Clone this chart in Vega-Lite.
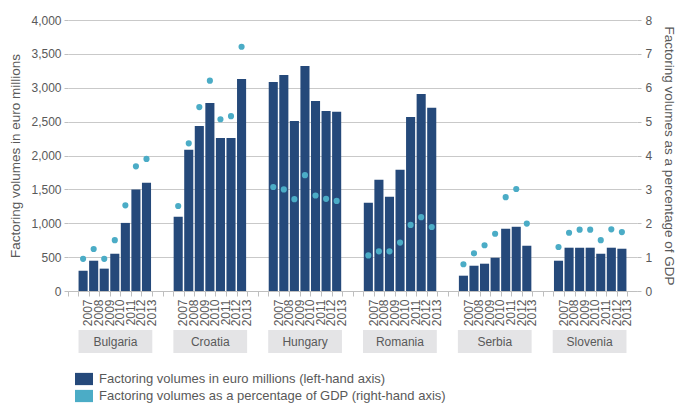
{
  "$schema": "https://vega.github.io/schema/vega-lite/v6.json",
  "padding": {"left": 8, "top": 14, "right": 4, "bottom": 0},
  "config": {
    "font": "Liberation Sans",
    "view": {"stroke": null},
    "axis": {"labelColor": "#595959", "titleColor": "#595959", "titleFontWeight": "normal", "labelFontSize": 12, "titleFontSize": 13.5}
  },
  "datasets": {
    "vals": [
      {"country": "Bulgaria", "year": "2007", "slot": "Bulgaria 2007", "volume": 300, "gdp": 0.95},
      {"country": "Bulgaria", "year": "2008", "slot": "Bulgaria 2008", "volume": 447, "gdp": 1.24},
      {"country": "Bulgaria", "year": "2009", "slot": "Bulgaria 2009", "volume": 330, "gdp": 0.95},
      {"country": "Bulgaria", "year": "2010", "slot": "Bulgaria 2010", "volume": 550, "gdp": 1.5},
      {"country": "Bulgaria", "year": "2011", "slot": "Bulgaria 2011", "volume": 1005, "gdp": 2.53},
      {"country": "Bulgaria", "year": "2012", "slot": "Bulgaria 2012", "volume": 1499, "gdp": 3.68},
      {"country": "Bulgaria", "year": "2013", "slot": "Bulgaria 2013", "volume": 1597, "gdp": 3.9},
      {"country": "Croatia", "year": "2007", "slot": "Croatia 2007", "volume": 1096, "gdp": 2.51},
      {"country": "Croatia", "year": "2008", "slot": "Croatia 2008", "volume": 2084, "gdp": 4.36},
      {"country": "Croatia", "year": "2009", "slot": "Croatia 2009", "volume": 2437, "gdp": 5.43},
      {"country": "Croatia", "year": "2010", "slot": "Croatia 2010", "volume": 2776, "gdp": 6.21},
      {"country": "Croatia", "year": "2011", "slot": "Croatia 2011", "volume": 2260, "gdp": 5.07},
      {"country": "Croatia", "year": "2012", "slot": "Croatia 2012", "volume": 2260, "gdp": 5.16},
      {"country": "Croatia", "year": "2013", "slot": "Croatia 2013", "volume": 3130, "gdp": 7.21},
      {"country": "Hungary", "year": "2007", "slot": "Hungary 2007", "volume": 3086, "gdp": 3.07},
      {"country": "Hungary", "year": "2008", "slot": "Hungary 2008", "volume": 3189, "gdp": 3.0},
      {"country": "Hungary", "year": "2009", "slot": "Hungary 2009", "volume": 2511, "gdp": 2.71},
      {"country": "Hungary", "year": "2010", "slot": "Hungary 2010", "volume": 3322, "gdp": 3.42},
      {"country": "Hungary", "year": "2011", "slot": "Hungary 2011", "volume": 2806, "gdp": 2.82},
      {"country": "Hungary", "year": "2012", "slot": "Hungary 2012", "volume": 2658, "gdp": 2.72},
      {"country": "Hungary", "year": "2013", "slot": "Hungary 2013", "volume": 2644, "gdp": 2.66},
      {"country": "Romania", "year": "2007", "slot": "Romania 2007", "volume": 1302, "gdp": 1.05},
      {"country": "Romania", "year": "2008", "slot": "Romania 2008", "volume": 1641, "gdp": 1.17},
      {"country": "Romania", "year": "2009", "slot": "Romania 2009", "volume": 1391, "gdp": 1.17},
      {"country": "Romania", "year": "2010", "slot": "Romania 2010", "volume": 1789, "gdp": 1.43},
      {"country": "Romania", "year": "2011", "slot": "Romania 2011", "volume": 2570, "gdp": 1.95},
      {"country": "Romania", "year": "2012", "slot": "Romania 2012", "volume": 2909, "gdp": 2.18},
      {"country": "Romania", "year": "2013", "slot": "Romania 2013", "volume": 2703, "gdp": 1.89},
      {"country": "Serbia", "year": "2007", "slot": "Serbia 2007", "volume": 226, "gdp": 0.79},
      {"country": "Serbia", "year": "2008", "slot": "Serbia 2008", "volume": 373, "gdp": 1.11},
      {"country": "Serbia", "year": "2009", "slot": "Serbia 2009", "volume": 403, "gdp": 1.35},
      {"country": "Serbia", "year": "2010", "slot": "Serbia 2010", "volume": 491, "gdp": 1.69},
      {"country": "Serbia", "year": "2011", "slot": "Serbia 2011", "volume": 919, "gdp": 2.77},
      {"country": "Serbia", "year": "2012", "slot": "Serbia 2012", "volume": 948, "gdp": 3.01},
      {"country": "Serbia", "year": "2013", "slot": "Serbia 2013", "volume": 668, "gdp": 1.99},
      {"country": "Slovenia", "year": "2007", "slot": "Slovenia 2007", "volume": 447, "gdp": 1.3},
      {"country": "Slovenia", "year": "2008", "slot": "Slovenia 2008", "volume": 639, "gdp": 1.72},
      {"country": "Slovenia", "year": "2009", "slot": "Slovenia 2009", "volume": 639, "gdp": 1.81},
      {"country": "Slovenia", "year": "2010", "slot": "Slovenia 2010", "volume": 639, "gdp": 1.81},
      {"country": "Slovenia", "year": "2011", "slot": "Slovenia 2011", "volume": 550, "gdp": 1.5},
      {"country": "Slovenia", "year": "2012", "slot": "Slovenia 2012", "volume": 639, "gdp": 1.82},
      {"country": "Slovenia", "year": "2013", "slot": "Slovenia 2013", "volume": 624, "gdp": 1.74}
    ],
    "boxes": [
      {"country": "Bulgaria", "start": "Bulgaria 2007", "mid": "Bulgaria 2010", "end": "Bulgaria_b"},
      {"country": "Croatia", "start": "Croatia 2007", "mid": "Croatia 2010", "end": "Croatia_b"},
      {"country": "Hungary", "start": "Hungary 2007", "mid": "Hungary 2010", "end": "Hungary_b"},
      {"country": "Romania", "start": "Romania 2007", "mid": "Romania 2010", "end": "Romania_b"},
      {"country": "Serbia", "start": "Serbia 2007", "mid": "Serbia 2010", "end": "Serbia_b"},
      {"country": "Slovenia", "start": "Slovenia 2007", "mid": "Slovenia 2010", "end": "Slovenia_b"}
    ]
  },
  "spacing": 4,
  "resolve": {"scale": {"x": "independent"}},
  "vconcat": [
    {
      "width": 569,
      "height": 271,
      "data": {"name": "vals"},
      "layer": [
        {
          "mark": {"type": "bar", "opacity": 1},
          "encoding": {
            "x": {
              "field": "slot", "type": "ordinal",
              "scale": {"domain": ["Bulgaria_a","Bulgaria 2007","Bulgaria 2008","Bulgaria 2009","Bulgaria 2010","Bulgaria 2011","Bulgaria 2012","Bulgaria 2013","Bulgaria_b","Croatia_a","Croatia 2007","Croatia 2008","Croatia 2009","Croatia 2010","Croatia 2011","Croatia 2012","Croatia 2013","Croatia_b","Hungary_a","Hungary 2007","Hungary 2008","Hungary 2009","Hungary 2010","Hungary 2011","Hungary 2012","Hungary 2013","Hungary_b","Romania_a","Romania 2007","Romania 2008","Romania 2009","Romania 2010","Romania 2011","Romania 2012","Romania 2013","Romania_b","Serbia_a","Serbia 2007","Serbia 2008","Serbia 2009","Serbia 2010","Serbia 2011","Serbia 2012","Serbia 2013","Serbia_b","Slovenia_a","Slovenia 2007","Slovenia 2008","Slovenia 2009","Slovenia 2010","Slovenia 2011","Slovenia 2012","Slovenia 2013","Slovenia_b"], "paddingInner": 0.14, "paddingOuter": 0},
              "axis": {"title": null, "bandPosition": 0, "labelOffset": 5.27, "labelAngle": 270, "labelExpr": "indexof(datum.value, '_') >= 0 ? '' : slice(datum.value, -4)", "labelPadding": 3, "tickSize": 5, "tickColor": "#BFBFBF", "domainColor": "#BFBFBF", "grid": false, "labelFontSize": 12}
            },
            "y": {
              "field": "volume", "type": "quantitative",
              "scale": {"domain": [0, 4000]},
              "axis": {"title": "Factoring volumes in euro millions", "values": [0,500,1000,1500,2000,2500,3000,3500,4000], "format": ",.0f", "domain": false, "tickSize": 4, "tickColor": "#BFBFBF", "gridColor": "#C9C9C9", "labelPadding": 3, "titlePadding": 8}
            },
            "color": {"datum": "Factoring volumes in euro millions (left-hand axis)", "type": "nominal",
              "scale": {"domain": ["Factoring volumes in euro millions (left-hand axis)", "Factoring volumes as a percentage of GDP (right-hand axis)"], "range": ["#25497A", "#4BACC6"]},
              "legend": {"title": null, "orient": "bottom", "direction": "vertical", "symbolType": "M-1,-0.68H1V0.68H-1Z", "symbolSize": 324, "symbolStrokeWidth": 0, "symbolOpacity": 1, "labelFontSize": 13, "labelColor": "#595959", "rowPadding": 1, "labelOffset": 6, "labelLimit": 500, "offset": 10, "padding": 7}
            }
          }
        },
        {
          "mark": {"type": "point", "filled": true, "size": 38, "opacity": 1},
          "encoding": {
            "x": {"field": "slot", "type": "ordinal"},
            "y": {
              "field": "gdp", "type": "quantitative",
              "scale": {"domain": [0, 8]},
              "axis": {"title": "Factoring volumes as a percentage of GDP", "orient": "right", "values": [0,1,2,3,4,5,6,7,8], "grid": false, "domain": false, "tickSize": 4, "tickColor": "#BFBFBF", "labelPadding": 4, "titlePadding": 10}
            },
            "color": {"datum": "Factoring volumes as a percentage of GDP (right-hand axis)", "type": "nominal"}
          }
        }
      ],
      "resolve": {"scale": {"y": "independent"}}
    },
    {
      "width": 569,
      "height": 23,
      "data": {"name": "boxes"},
      "encoding": {
        "x": {"field": "start", "type": "ordinal", "bandPosition": 0,
          "scale": {"domain": ["Bulgaria_a","Bulgaria 2007","Bulgaria 2008","Bulgaria 2009","Bulgaria 2010","Bulgaria 2011","Bulgaria 2012","Bulgaria 2013","Bulgaria_b","Croatia_a","Croatia 2007","Croatia 2008","Croatia 2009","Croatia 2010","Croatia 2011","Croatia 2012","Croatia 2013","Croatia_b","Hungary_a","Hungary 2007","Hungary 2008","Hungary 2009","Hungary 2010","Hungary 2011","Hungary 2012","Hungary 2013","Hungary_b","Romania_a","Romania 2007","Romania 2008","Romania 2009","Romania 2010","Romania 2011","Romania 2012","Romania 2013","Romania_b","Serbia_a","Serbia 2007","Serbia 2008","Serbia 2009","Serbia 2010","Serbia 2011","Serbia 2012","Serbia 2013","Serbia_b","Slovenia_a","Slovenia 2007","Slovenia 2008","Slovenia 2009","Slovenia 2010","Slovenia 2011","Slovenia 2012","Slovenia 2013","Slovenia_b"], "paddingInner": 0, "paddingOuter": 0},
          "axis": null}
      },
      "layer": [
        {
          "mark": {"type": "rect", "color": "#E4E4E6"},
          "encoding": {
            "x2": {"field": "end", "bandPosition": 0}
          }
        },
        {
          "mark": {"type": "text", "color": "#595959", "fontSize": 12},
          "encoding": {
            "x": {"field": "mid", "type": "ordinal", "bandPosition": 0.5},
            "text": {"field": "country"}
          }
        }
      ]
    }
  ]
}
